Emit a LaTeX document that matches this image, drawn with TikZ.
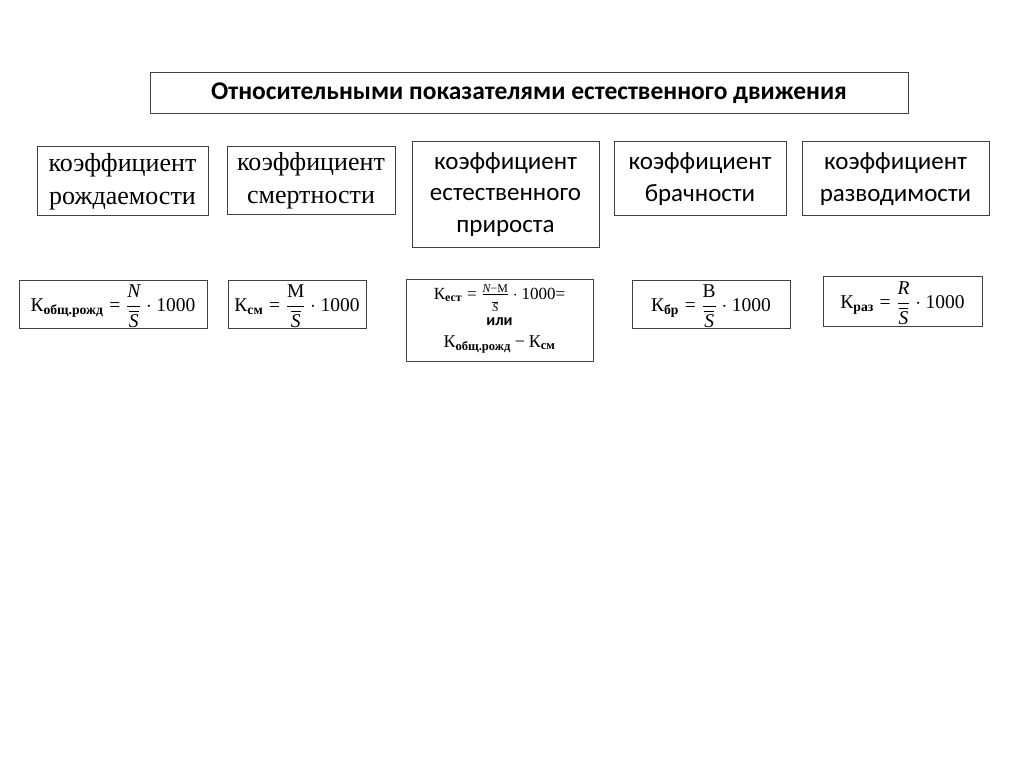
\documentclass[tikz,border=0pt]{standalone}
\usepackage{amsmath}
\usepackage{fontspec}
\setmainfont{Liberation Serif}
\newfontfamily\carl{Carlito}
\newcommand{\Kx}[1]{\text{\rmfamily К}_{\text{\rmfamily\bfseries #1}}}
\newcommand{\thou}{\text{\rmfamily 1000}}
\newcommand{\eqx}{\mathrel{\text{\rmfamily =}}}
\newcommand{\mnx}{\mathbin{\text{\rmfamily −}}}
\newcommand{\vx}[1]{\text{\rmfamily\itshape #1}}
\newcommand{\rx}[1]{\text{\rmfamily #1}}
\newcommand{\Sb}{\rule{0pt}{0.92em}\overline{\vx{S}}}
\begin{document}
\begin{tikzpicture}[x=1pt,y=-1pt,
  box/.style={draw=black!75,line width=1pt,inner sep=0pt,align=center},
  serifbox/.style={box,font=\fontsize{26}{33}\selectfont},
  sansbox/.style={box,font=\carl\fontsize{25}{31.5}\selectfont},
  formtext/.style={inner sep=0pt,font=\fontsize{19.5}{22}\selectfont}]
\useasboundingbox (0,0) rectangle (1024,767);
\fill[white] (0,0) rectangle (1024,767);
\node[box,minimum width=758,minimum height=41,font=\carl\bfseries\fontsize{25.5}{28}\selectfont] (title) at (529,93.5) {Относительными показателями естественного движения};
\node[serifbox,minimum width=171,minimum height=69] (b1) at (122.5,181.5) {коэффициент\\рождаемости};
\node[serifbox,minimum width=168,minimum height=68] (b2) at (311,181) {коэффициент\\смертности};
\node[sansbox,minimum width=187,minimum height=105] (b3) at (505.5,194.5) {коэффициент\\естественного\\прироста};
\node[sansbox,minimum width=172,minimum height=74] (b4) at (700,179) {коэффициент\\брачности};
\node[sansbox,minimum width=187,minimum height=74] (b5) at (895.5,179) {коэффициент\\разводимости};
% formula boxes
\node[box,minimum width=188,minimum height=48] (f1) at (113,304) {};
\node[formtext] (f1t) at (113,306) {$\Kx{общ.рожд}\eqx\dfrac{\vx{N}}{\Sb}\cdot \thou$};
\node[box,minimum width=138,minimum height=48] (f2) at (297,304) {};
\node[formtext] (f2t) at (297,306) {$\Kx{см}\eqx\dfrac{\rx{М}}{\Sb}\cdot \thou$};
\node[box,minimum width=187,minimum height=82] (f3) at (499.5,320) {};
\node[font=\fontsize{17}{19}\selectfont,inner sep=0pt] (f3a) at (499.5,298) {$\Kx{ест}\eqx\frac{\vx{N}\mnx\rx{М}}{\Sb}\cdot \thou$=};
\node[font=\carl\bfseries\fontsize{16}{17}\selectfont,inner sep=0pt] (f3b) at (499.5,322) {или};
\node[font=\fontsize{18}{20}\selectfont,inner sep=0pt] (f3c) at (499.5,344) {$\Kx{общ.рожд}\mnx\Kx{см}$};
\node[box,minimum width=158,minimum height=48] (f4) at (711,304) {};
\node[formtext] (f4t) at (711,306) {$\Kx{бр}\eqx\dfrac{\rx{В}}{\Sb}\cdot \thou$};
\node[box,minimum width=159,minimum height=50] (f5) at (902.5,301) {};
\node[formtext] (f5t) at (902.5,303) {$\Kx{раз}\eqx\dfrac{\vx{R}}{\Sb}\cdot \thou$};
\end{tikzpicture}
\end{document}
